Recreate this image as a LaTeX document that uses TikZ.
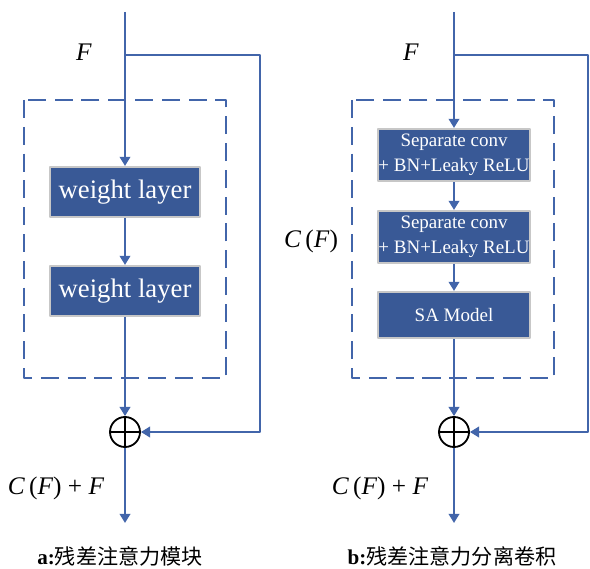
\documentclass[tikz,border=0pt]{standalone}
\usepackage{fontspec}
\setmainfont{Liberation Serif}
\newfontfamily\cjk{Noto Sans CJK SC}
\usetikzlibrary{arrows.meta}
\definecolor{boxblue}{RGB}{57,89,150}
\definecolor{lineblue}{RGB}{66,101,170}
\begin{document}
\begin{tikzpicture}[x=0.025cm,y=-0.025cm,>={Triangle[length=6.5pt,width=7.5pt]}, line join = round, font=\fontsize{18}{20}\selectfont]
            \tikzset{flow/.style={draw=lineblue,line width=1.5pt},
                     layer/.style={draw=black!22,line width=1.5pt,fill=boxblue,text=white,inner sep=0pt,minimum width=3.75cm,minimum height=1.25cm,font=\fontsize{19}{21}\selectfont},
                     conv/.style={layer,minimum width=3.8cm,minimum height=1.3cm,align=center,font=\fontsize{13.5}{17.5}\selectfont},
                     dashbox/.style={draw=lineblue,line width=1.5pt,dash pattern=on 0.45cm off 0.22cm},
                     sum/.style={circle,draw,line width=1.3pt,minimum size=0.75cm,inner sep=0pt,
                       path picture={\draw[line width=1.3pt] (path picture bounding box.north) -- (path picture bounding box.south)
                         (path picture bounding box.west) -- (path picture bounding box.east);}},
                     caption/.style={inner sep=0pt,font=\fontsize{15}{17}\selectfont}}
            \useasboundingbox (0,0) rectangle (590,569);
            % a: residual block
            \draw[dashbox] (24,100) rectangle (226,378);
            \coordinate (ltop) at (125,12);
            \coordinate (lsplit) at (125,55);
            \coordinate (lcorner) at (260,432);
            \coordinate (lend) at (125,523);
            \node[layer] (w1) at (125,192) {weight layer};
            \node[layer] (w2) at (125,291) {weight layer};
            \node[sum] (lsum) at (125,432) {};
            \draw[flow,->] (ltop) -- (w1);
            \draw[flow,->] (w1) -- (w2);
            \draw[flow,->] (w2) -- (lsum);
            \draw[flow,->] (lsum) -- (lend);
            \draw[flow,->] (lsplit) -| (lcorner) -- (lsum);
            \node (lF) at (84,52) {\textit{F}};
            \node (lout) at (56,488) {\textit{C}\,(\textit{F}) + \textit{F}};
            \node[caption] (lcap) at (120,556) {\textbf{a:}{\cjk 残差注意力模块}};
            % b: residual separable conv block
            \draw[dashbox] (352,100) rectangle (554,378);
            \coordinate (rtop) at (454,12);
            \coordinate (rsplit) at (454,55);
            \coordinate (rcorner) at (588,432);
            \coordinate (rend) at (454,523);
            \node[conv] (c1) at (454,155) {Separate conv\\+ BN+Leaky ReLU};
            \node[conv] (c2) at (454,237) {Separate conv\\+ BN+Leaky ReLU};
            \node[conv,minimum height=1.15cm] (sa) at (454,315) {SA Model};
            \node[sum] (rsum) at (454,432) {};
            \draw[flow,->] (rtop) -- (c1);
            \draw[flow,->] (c1) -- (c2);
            \draw[flow,->] (c2) -- (sa);
            \draw[flow,->] (sa) -- (rsum);
            \draw[flow,->] (rsum) -- (rend);
            \draw[flow,->] (rsplit) -| (rcorner) -- (rsum);
            \node (rF) at (411,52) {\textit{F}};
            \node (cf) at (311,241) {\textit{C}\,(\textit{F})};
            \node (rout) at (380,488) {\textit{C}\,(\textit{F}) + \textit{F}};
            \node[caption] (rcap) at (452,556) {\textbf{b:}{\cjk 残差注意力分离卷积}};
        \end{tikzpicture}
\end{document}
